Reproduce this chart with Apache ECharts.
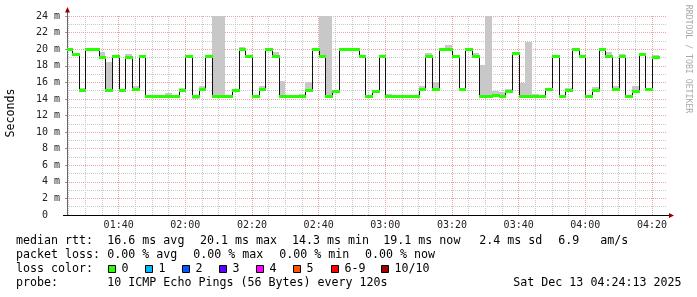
<!DOCTYPE html>
<html><head><meta charset="utf-8">
<script src="https://cdn.jsdelivr.net/npm/echarts@6/dist/echarts.min.js"></script>
<style>html,body{margin:0;padding:0;background:#fff}#c{width:697px;height:297px}</style>
</head><body><div id="c"></div>
<script>
// ---- data (SmokePing, 120 s steps starting 01:24) ----
const stepStartLabel = "01:24";
const stepMinutes = 2;
const viewStart = "01:24:30";
const viewEnd = "04:24:30";
const median = [
  20.0,19.4,15.1,20.0,20.0,19.1,15.1,19.2,15.1,19.1,
  15.2,19.2,14.3,14.3,14.4,14.4,14.4,15.1,19.2,14.3,
  15.2,19.2,14.3,14.4,14.3,15.1,20.0,19.2,14.3,15.2,
  20.0,19.2,14.3,14.4,14.3,14.4,15.1,20.0,19.2,14.3,
  15.0,20.0,20.0,20.0,19.2,14.3,15.0,19.2,14.4,14.3,
  14.3,14.3,14.3,15.2,19.2,15.2,20.0,20.0,19.2,15.2,
  20.0,19.2,14.4,14.4,14.5,14.4,15.0,19.5,14.4,14.4,
  14.4,14.3,15.2,19.2,14.3,15.1,20.0,19.2,14.3,15.1,
  20.0,19.2,15.2,19.2,14.3,15.0,19.4,15.2,19.1
];
const smokeMin = [
  19.9,19.3,15.0,19.9,19.9,19.0,15.0,19.1,15.0,19.0,
  15.1,19.1,14.2,14.2,14.3,14.3,14.3,15.0,19.1,14.0,
  15.1,19.1,14.1,14.3,14.2,15.0,19.9,19.1,14.1,15.1,
  19.9,19.1,14.2,14.3,14.2,14.3,15.0,19.9,19.1,14.2,
  14.9,19.9,19.9,19.9,19.1,14.1,14.9,19.1,14.3,14.2,
  14.2,14.2,14.2,15.1,19.1,15.1,19.9,19.9,19.1,14.9,
  19.9,19.1,14.2,14.3,14.3,14.3,14.9,19.4,14.2,14.2,
  14.3,14.2,14.9,19.1,14.2,15.0,19.8,19.1,14.2,15.0,
  19.9,19.1,15.1,19.1,14.2,14.9,19.3,15.1,19.0
];
const smokeMax = [
  20.1,19.5,15.3,20.1,20.1,19.7,18.4,19.3,15.2,19.4,
  15.6,19.3,14.5,14.4,14.5,14.7,14.5,15.3,19.3,14.4,
  15.6,19.3,24.5,24.5,14.4,15.2,20.3,19.3,14.4,15.5,
  20.1,19.7,16.2,14.5,14.5,14.6,16.0,20.2,24.5,24.5,
  15.1,20.2,20.1,20.1,19.3,14.4,15.1,19.3,14.6,14.4,
  14.4,14.4,14.5,15.5,19.5,16.1,20.1,20.5,19.3,15.3,
  20.1,19.5,18.1,24.5,14.9,14.8,15.2,19.6,15.9,20.9,
  14.6,14.5,15.3,19.3,14.4,15.3,20.1,19.3,14.4,15.4,
  20.2,19.6,15.5,19.4,14.5,15.5,19.5,15.3,19.3
];
const xTickLabels = ["01:40","02:00","02:20","02:40","03:00","03:20","03:40","04:00","04:20"];
const yAxisTitle = "Seconds";
const watermark = "RRDTOOL / TOBI OETIKER";
const rowLabels = ["median rtt:", "packet loss:", "loss color:", "probe:"];
const rttStats = ["16.6 ms avg","20.1 ms max","14.3 ms min","19.1 ms now","2.4 ms sd","6.9   am/s"];
const lossStats = ["0.00 % avg","0.00 % max","0.00 % min","0.00 % now"];
const lossNames = ["0","1","2","3","4","5","6-9","10/10"];
const lossColors = ["#26ff00","#00b8ff","#0059ff","#5e00ff","#ff00ff","#ff5500","#ff0000","#a10000"];
const probeText = "10 ICMP Echo Pings (56 Bytes) every 120s";
const dateText = "Sat Dec 13 04:24:13 2025";

// ---- helpers ----
function toMin(s){const p=s.split(':').map(Number);return p[0]*60+p[1]+(p[2]||0)/60;}
function fmt(m){const h=Math.floor(m/60),mm=Math.round(m-h*60);return String(h).padStart(2,'0')+':'+String(mm).padStart(2,'0');}
const t0 = toMin(stepStartLabel);
const tStart = i => t0 + i*stepMinutes;
const xMin = toMin(viewStart), xMax = toMin(viewEnd);
const xTicks = xTickLabels.map(toMin);
const minorGrid = []; for (let t = Math.ceil(xMin/5)*5; t < xMax; t += 5) if (xTicks.indexOf(t) < 0) minorGrid.push(t);

// ---- layout ----
const G = {left:67, top:16, width:600, height:199};
const MONO = "'DejaVu Sans Mono', monospace";
const LFONT = "11.65px " + MONO;
const rowY = [241, 255, 269, 283];
const rttX = [107.3,200,292,383.3,479.3,558.3];
const lossX = [107.3,193.3,279.3,365];
const swX = [108.5,145.5,182.5,219.5,256.5,293.5,331.5,381.5];
const MAJOR = '#eca4a4', MINOR = '#c8c8c8';

const chart = echarts.init(document.getElementById('c'), null, {renderer:'canvas'});

function clipRect(r, params){
  const cs = params.coordSys;
  return echarts.graphic.clipRectByRect(r, {x:cs.x, y:cs.y, width:cs.width, height:cs.height});
}
function snapRect(x0, y0, x1, y1){
  const a = Math.round(Math.min(x0,x1)), b = Math.round(Math.max(x0,x1));
  const c = Math.round(Math.min(y0,y1)), d = Math.round(Math.max(y0,y1));
  return {x:a, y:c, width:b-a, height:d-c};
}

const graphics = [];
const axY = G.top + G.height, axR = G.left + G.width;
graphics.push({type:'line', shape:{x1:G.left-4, y1:axY+0.5, x2:axR+3, y2:axY+0.5}, style:{stroke:'#000', lineWidth:1}, z:10});
graphics.push({type:'line', shape:{x1:G.left+0.5, y1:G.top, x2:G.left+0.5, y2:G.top-4}, style:{stroke:'#666', lineWidth:1}, z:10});
graphics.push({type:'polygon', shape:{points:[[G.left-2,G.top-3.5],[G.left+3,G.top-3.5],[G.left+0.5,G.top-9]]}, style:{fill:'#960000'}, z:11});
graphics.push({type:'polygon', shape:{points:[[axR+2,axY-2],[axR+2,axY+3],[axR+7,axY+0.5]]}, style:{fill:'#960000'}, z:11});
graphics.push({type:'text', x:11, y:113, rotation:Math.PI/2, style:{text:yAxisTitle, font:LFONT, fill:'#000', align:'center', verticalAlign:'middle'}});
graphics.push({type:'text', x:688.5, y:59, rotation:-Math.PI/2, style:{text:watermark, font:"8.2px "+MONO, fill:'#aaa', align:'center', verticalAlign:'middle'}});
rowLabels.forEach((t,i)=>graphics.push({type:'text', x:16, y:rowY[i], style:{text:t, font:LFONT, fill:'#000', verticalAlign:'middle'}}));
rttStats.forEach((t,i)=>graphics.push({type:'text', x:rttX[i], y:rowY[0], style:{text:t, font:LFONT, fill:'#000', verticalAlign:'middle'}}));
lossStats.forEach((t,i)=>graphics.push({type:'text', x:lossX[i], y:rowY[1], style:{text:t, font:LFONT, fill:'#000', verticalAlign:'middle'}}));
lossNames.forEach((t,i)=>{
  graphics.push({type:'rect', shape:{x:swX[i], y:rowY[2]-3.5, width:7, height:7}, style:{fill:lossColors[i], stroke:'#000', lineWidth:1}});
  graphics.push({type:'text', x:swX[i]+13, y:rowY[2], style:{text:t, font:LFONT, fill:'#000', verticalAlign:'middle'}});
});
graphics.push({type:'text', x:107.3, y:rowY[3], style:{text:probeText, font:LFONT, fill:'#000', verticalAlign:'middle'}});
graphics.push({type:'text', x:513.3, y:rowY[3], style:{text:dateText, font:LFONT, fill:'#000', verticalAlign:'middle'}});

chart.setOption({
  animation:false,
  backgroundColor:'#fff',
  grid:{left:G.left, top:G.top, width:G.width, height:G.height, containLabel:false},
  xAxis:[
    {type:'value', min:xMin, max:xMax, z:1,
     axisLine:{show:false},
     axisTick:{show:false, customValues:xTicks},
     splitLine:{show:true, lineStyle:{color:MAJOR, type:[1,1], width:1}},
     axisLabel:{customValues:xTicks, formatter:v=>fmt(v), fontFamily:MONO, fontSize:10, color:'#222', margin:5}},
    {type:'value', min:xMin, max:xMax, z:0,
     axisLine:{show:false},
     axisTick:{show:false, customValues:minorGrid},
     axisLabel:{show:false, customValues:minorGrid},
     splitLine:{show:true, lineStyle:{color:MINOR, type:[1,1], width:1}}}
  ],
  yAxis:[
    {type:'value', min:0, max:24, interval:2, z:1,
     axisLine:{show:true, lineStyle:{color:'#666', width:1}},
     axisTick:{show:true, length:2, lineStyle:{color:'#999'}},
     axisLabel:{formatter:v=> v===0 ? '0  ' : v+' m', fontFamily:MONO, fontSize:10, color:'#222', margin:7},
     splitLine:{show:true, lineStyle:{color:MAJOR, type:[1,1], width:1}}},
    {type:'value', min:0, max:24, interval:1, z:0,
     axisLine:{show:false}, axisTick:{show:false}, axisLabel:{show:false},
     splitLine:{show:true, lineStyle:{color:MINOR, type:[1,1], width:1}}}
  ],
  graphic: graphics,
  series:[
    {type:'custom', z:2, silent:true,
     data: median.map((m,i)=>[tStart(i), tStart(i)+stepMinutes, smokeMin[i], smokeMax[i]]),
     encode:{x:[0,1], y:[2,3]},
     renderItem:(params, api)=>{
       const a = api.coord([api.value(0), api.value(3)]);
       const b = api.coord([api.value(1), api.value(2)]);
       const r = clipRect(snapRect(a[0], a[1], b[0], b[1]), params);
       return r ? {type:'rect', shape:r, style:{fill:'#c8c8c8'}} : null;
     }},
    {type:'custom', z:3, silent:true,
     data: median.map((m,i)=>[tStart(i), tStart(i)+stepMinutes, m, i+1<median.length ? median[i+1] : m]),
     encode:{x:[0,1], y:[2,3]},
     renderItem:(params, api)=>{
       const cs = params.coordSys;
       const a = api.coord([api.value(0), api.value(2)]);
       const b = api.coord([api.value(1), api.value(2)]);
       const c = api.coord([api.value(1), api.value(3)]);
       const x0 = Math.max(cs.x, Math.round(a[0])), x1 = Math.round(b[0]) + 0.5;
       const y0 = Math.round(a[1]) + 0.5, y1 = Math.round(c[1]) + 0.5;
       return {type:'polyline', shape:{points:[[x0,y0],[x1,y0],[x1,y1]]}, style:{stroke:'#111', lineWidth:1, fill:null}};
     }},
    {type:'custom', z:4, silent:true,
     data: median.map((m,i)=>[tStart(i), tStart(i)+stepMinutes, m]),
     encode:{x:[0,1], y:2},
     renderItem:(params, api)=>{
       const a = api.coord([api.value(0), api.value(2)]);
       const b = api.coord([api.value(1), api.value(2)]);
       const yc = Math.round(a[1]);
       const r = clipRect(snapRect(a[0], yc-1, b[0]+1, yc+2), params);
       return r ? {type:'rect', shape:r, style:{fill:lossColors[0]}} : null;
     }}
  ]
});
</script></body></html>
